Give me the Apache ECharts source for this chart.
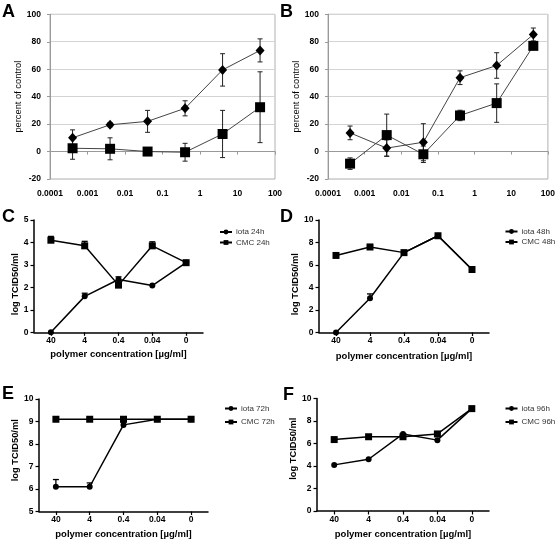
<!DOCTYPE html>
<html><head><meta charset="utf-8">
<script src="https://cdn.jsdelivr.net/npm/echarts@6/dist/echarts.min.js"></script>
<style>html,body{margin:0;padding:0;background:#fff}#c{width:558px;height:541px}</style>
</head><body><div id="c"></div>
<script>
// ---- Data ----
const logX = [0.0004, 0.004, 0.04, 0.4, 4, 40];
const logTickLabels = ['0.0001', '0.001', '0.01', '0.1', '1', '10', '100'];
const A_diamond = [10, 19.5, 22, 31.5, 59.5, 73.7];
const A_diamondErr = [5.8, 1.5, 8, 5.5, 11.8, 8.4];
const A_square = [2.4, 2, 0, -0.5, 12.8, 32.3];
const A_squareErr = [8, 8, 1, 6.5, 17.2, 25.8];
const B_diamond = [13.6, 2.5, 6.8, 53.8, 62.7, 85.3];
const B_diamondErr = [5, 6, 13.5, 5, 9.3, 4.7];
const B_square = [-8.8, 12, -2, 26.3, 35.3, 77];
const B_squareErr = [4.2, 15.3, 6, 3.8, 14, 2];

const concCategories = ['40', '4', '0.4', '0.04', '0'];
const C_iota = [0, 1.6, 2.35, 2.08, 3.1];
const C_iotaErr = [0, 0.14, 0.12, 0, 0.03];
const C_cmc = [4.1, 3.85, 2.1, 3.85, 3.1];
const C_cmcErr = [0.17, 0.2, 0.05, 0.18, 0.03];
const D_iota = [0, 3.05, 7.1, 8.6, 5.6];
const D_iotaErr = [0, 0.38, 0.08, 0.08, 0.05];
const D_cmc = [6.85, 7.6, 7.1, 8.6, 5.6];
const D_cmcErr = [0.12, 0.22, 0.08, 0.08, 0.05];
const E_iota = [6.1, 6.1, 8.85, 9.1, 9.1];
const E_iotaErr = [0.32, 0.17, 0.12, 0, 0];
const E_cmc = [9.1, 9.1, 9.1, 9.1, 9.1];
const E_cmcErr = [0, 0, 0, 0, 0];
const F_iota = [4.1, 4.6, 6.85, 6.3, 9.1];
const F_iotaErr = [0, 0, 0, 0, 0];
const F_cmc = [6.35, 6.6, 6.6, 6.85, 9.1];
const F_cmcErr = [0, 0, 0, 0, 0];

// ---- Helpers ----
const FONT = 'Liberation Sans, Arial, sans-serif';
function errSeries(idx, xs, ys, es, upOnly, capW, color, lw) {
  return {
    type: 'custom', xAxisIndex: idx, yAxisIndex: idx, z: 1, silent: true,
    data: ys.map((y, i) => [xs[i], y, es[i]]),
    renderItem: function (params, api) {
      const x = api.value(0), y = api.value(1), e = api.value(2);
      if (!e) return null;
      const top = api.coord([x, y + e]);
      const bot = api.coord([x, upOnly ? y : y - e]);
      const st = { stroke: color, lineWidth: lw };
      const ch = [
        { type: 'line', shape: { x1: top[0], y1: top[1], x2: bot[0], y2: bot[1] }, style: st },
        { type: 'line', shape: { x1: top[0] - capW / 2, y1: top[1], x2: top[0] + capW / 2, y2: top[1] }, style: st }
      ];
      if (!upOnly) ch.push({ type: 'line', shape: { x1: bot[0] - capW / 2, y1: bot[1], x2: bot[0] + capW / 2, y2: bot[1] }, style: st });
      return { type: 'group', children: ch };
    }
  };
}
function excelLine(idx, ys, sym, size) {
  return {
    type: 'line', xAxisIndex: idx, yAxisIndex: idx, z: 3,
    data: ys.map((y, i) => [logX[i], y]),
    symbol: sym, symbolSize: size, showSymbol: true,
    lineStyle: { color: '#444', width: 1 }, itemStyle: { color: '#000' }, silent: true
  };
}
function gpLine(idx, name, ys, sym, size) {
  return {
    type: 'line', name: name, xAxisIndex: idx, yAxisIndex: idx, z: 3,
    data: ys, symbol: sym, symbolSize: size, showSymbol: true,
    lineStyle: { color: '#000', width: 1.5 }, itemStyle: { color: '#000' }, silent: true
  };
}
const idxCats = concCategories.map((c, i) => i);

const grids = [
  { left: 50, top: 14.3, width: 225, height: 164.7, show: true, borderColor: '#b0b0b0', borderWidth: 1 },
  { left: 328, top: 14.3, width: 225, height: 164.7, show: true, borderColor: '#b0b0b0', borderWidth: 1 },
  { left: 34, top: 220, width: 169, height: 112.3 },
  { left: 319, top: 220, width: 170, height: 112.5 },
  { left: 39, top: 399, width: 169, height: 112.5 },
  { left: 317, top: 398.5, width: 172, height: 112.5 }
];

function logXAxis(gi) {
  return {
    type: 'log', gridIndex: gi, logBase: 10, min: 0.0001, max: 100,
    axisLine: { lineStyle: { color: '#999', width: 1 } },
    axisTick: { show: true, length: 3, lineStyle: { color: '#999' } },
    splitLine: { show: false }, minorTick: { show: false },
    axisLabel: {
      margin: 10, color: '#000', fontFamily: FONT, fontWeight: 'bold', fontSize: 8.5,
      formatter: v => logTickLabels[Math.round(Math.log10(v)) + 4]
    }
  };
}
function pctYAxis(gi) {
  return {
    type: 'value', gridIndex: gi, min: -20, max: 100, interval: 20,
    name: 'percent of control', nameLocation: 'middle', nameGap: 23,
    nameTextStyle: { fontFamily: FONT, fontSize: 9.3, color: '#000' },
    axisLine: { show: true, lineStyle: { color: '#999', width: 1 } },
    axisTick: { show: true, length: 3, lineStyle: { color: '#999' } },
    splitLine: { show: true, lineStyle: { color: '#d4d4d4', width: 1 } },
    axisLabel: { margin: 9, color: '#000', fontFamily: FONT, fontWeight: 'bold', fontSize: 8.5 }
  };
}
function catXAxis(gi, nameGap) {
  return {
    type: 'category', gridIndex: gi, data: concCategories, boundaryGap: true,
    name: 'polymer concentration [µg/ml]', nameLocation: 'middle', nameGap: nameGap,
    nameTextStyle: { fontFamily: FONT, fontSize: 9.5, fontWeight: 'bold', color: '#000' },
    axisLine: { onZero: false, lineStyle: { color: '#000', width: 1.5 } },
    axisTick: { show: true, alignWithLabel: true, length: 3.5, lineStyle: { color: '#000', width: 1.2 } },
    axisLabel: { margin: 4, interval: 0, color: '#000', fontFamily: FONT, fontWeight: 'bold', fontSize: 8.5 },
    splitLine: { show: false }
  };
}
function gpYAxis(gi, min, max, interval, nameGap, pad) {
  return {
    type: 'value', gridIndex: gi, min: min, max: max, interval: interval,
    name: 'log TCID50/ml', nameLocation: 'middle', nameGap: nameGap,
    nameTextStyle: { fontFamily: FONT, fontSize: 9.3, fontWeight: 'bold', color: '#000', padding: pad },
    axisLine: { show: true, onZero: false, lineStyle: { color: '#000', width: 1.5 } },
    axisTick: { show: true, length: 3.5, lineStyle: { color: '#000', width: 1.2 } },
    axisLabel: { margin: 5.5, color: '#000', fontFamily: FONT, fontWeight: 'bold', fontSize: 8.5 },
    splitLine: { show: false }
  };
}
function legend(left, top, names, gap) {
  return {
    left: left, top: top, orient: 'vertical', itemWidth: 12, itemHeight: 6, itemGap: gap,
    data: names, selectedMode: false,
    textStyle: { fontFamily: FONT, fontSize: 8, color: '#333', padding: [0, 0, 0, -1] }
  };
}
function letter(t, x, y) {
  return { type: 'text', left: x, top: y, style: { text: t, font: 'bold 18px ' + FONT, fill: '#000' } };
}

const option = {
  animation: false,
  backgroundColor: '#fff',
  grid: grids,
  xAxis: [logXAxis(0), logXAxis(1), catXAxis(2, 17.2), catXAxis(3, 18.7), catXAxis(4, 17.7), catXAxis(5, 18.2)],
  yAxis: [pctYAxis(0), pctYAxis(1),
    gpYAxis(2, 0, 5, 1, 10.5, [0, 16, 0, 0]),
    gpYAxis(3, 0, 10, 2, 15.5, [0, 16, 0, 0]),
    gpYAxis(4, 5, 10, 1, 17.5, [0, 0, 0, 10]),
    gpYAxis(5, 0, 10, 2, 15.5, [0, 0, 0, 12])],
  legend: [
    legend(214, 223, ['iota 24h', 'CMC 24h'], 2.5),
    legend(499.5, 222.5, ['iota 48h', 'CMC 48h'], 2.5),
    legend(219, 399.5, ['iota 72h', 'CMC 72h'], 5.5),
    legend(499.5, 399.5, ['iota 96h', 'CMC 96h'], 5.5)
  ],
  graphic: [
    letter('A', 2, 3), letter('B', 280, 3),
    letter('C', 2, 208), letter('D', 280, 208),
    letter('E', 2, 385), letter('F', 283, 386)
  ],
  series: [
    errSeries(0, logX, A_diamond, A_diamondErr, false, 5, '#222', 1),
    errSeries(0, logX, A_square, A_squareErr, false, 5, '#222', 1),
    excelLine(0, A_diamond, 'diamond', [9, 10]),
    excelLine(0, A_square, 'rect', 10),
    errSeries(1, logX, B_diamond, B_diamondErr, false, 5, '#222', 1),
    errSeries(1, logX, B_square, B_squareErr, false, 5, '#222', 1),
    excelLine(1, B_diamond, 'diamond', [9, 10]),
    excelLine(1, B_square, 'rect', 10),

    errSeries(2, idxCats, C_iota, C_iotaErr, true, 6, '#000', 1.3),
    errSeries(2, idxCats, C_cmc, C_cmcErr, true, 6, '#000', 1.3),
    gpLine(2, 'iota 24h', C_iota, 'circle', 6),
    gpLine(2, 'CMC 24h', C_cmc, 'rect', 7),

    errSeries(3, idxCats, D_iota, D_iotaErr, true, 6, '#000', 1.3),
    errSeries(3, idxCats, D_cmc, D_cmcErr, true, 6, '#000', 1.3),
    gpLine(3, 'iota 48h', D_iota, 'circle', 6),
    gpLine(3, 'CMC 48h', D_cmc, 'rect', 7),

    errSeries(4, idxCats, E_iota, E_iotaErr, true, 6, '#000', 1.3),
    errSeries(4, idxCats, E_cmc, E_cmcErr, true, 6, '#000', 1.3),
    gpLine(4, 'iota 72h', E_iota, 'circle', 6),
    gpLine(4, 'CMC 72h', E_cmc, 'rect', 7),

    errSeries(5, idxCats, F_iota, F_iotaErr, true, 6, '#000', 1.3),
    errSeries(5, idxCats, F_cmc, F_cmcErr, true, 6, '#000', 1.3),
    gpLine(5, 'iota 96h', F_iota, 'circle', 6),
    gpLine(5, 'CMC 96h', F_cmc, 'rect', 7)
  ]
};
const chart = echarts.init(document.getElementById('c'), null, { renderer: 'canvas' });
chart.setOption(option);
</script>
</body></html>
